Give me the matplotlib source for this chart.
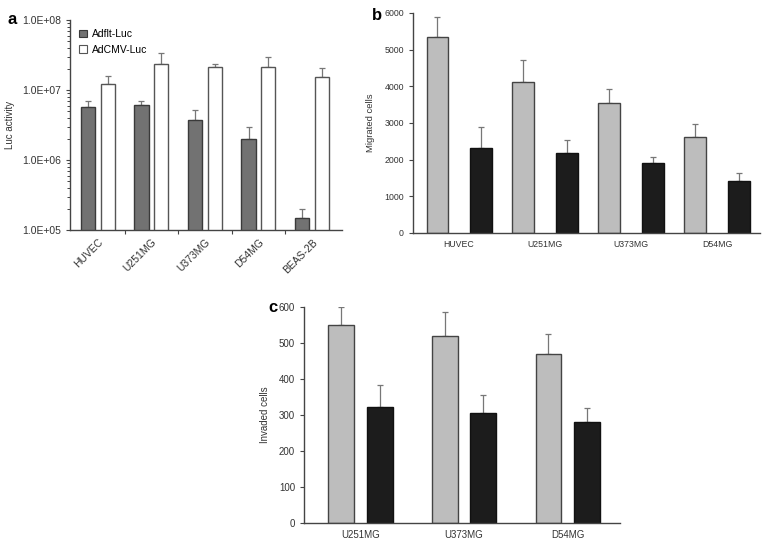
import numpy as np
import matplotlib
matplotlib.use("Agg")
import matplotlib.pyplot as plt
from matplotlib import font_manager
from matplotlib.patches import Patch
from matplotlib.ticker import FixedLocator, LogLocator, NullFormatter, FuncFormatter

# pick the regular-width Liberation Sans (avoid the Narrow variant)
fam = 'DejaVu Sans'
for f in font_manager.fontManager.ttflist:
    if 'LiberationSans-Regular' in f.fname:
        fam = f.name
        break
plt.rcParams['font.family'] = [fam, 'DejaVu Sans']
plt.rcParams['font.stretch'] = 'normal'

# panel a: luciferase activity (log scale)
cells_a = ['HUVEC', 'U251MG', 'U373MG', 'D54MG', 'BEAS-2B']
adflt = [5.8e6, 6.2e6, 3.7e6, 2.0e6, 1.47e5]
adflt_err = [1.25e6, 0.8e6, 1.4e6, 0.95e6, 0.5e5]
adcmv = [1.22e7, 2.33e7, 2.13e7, 2.13e7, 1.52e7]
adcmv_err = [0.36e7, 1.1e7, 0.22e7, 0.8e7, 0.52e7]

# panel b: migrated cells
cells_b = ['HUVEC', 'U251MG', 'U373MG', 'D54MG']
mig_gray = [5340, 4120, 3540, 2620]
mig_gray_err = [550, 600, 380, 350]
mig_black = [2330, 2170, 1910, 1410]
mig_black_err = [560, 375, 155, 230]

# panel c: invaded cells
cells_c = ['U251MG', 'U373MG', 'D54MG']
inv_gray = [550, 519, 469]
inv_gray_err = [49, 66, 56]
inv_black = [321, 305, 281]
inv_black_err = [63, 50, 38]

W, H = 768, 548
fig = plt.figure(figsize=(W / 100, H / 100), dpi=100)


def axes_px(left, top, right, bottom):
    return fig.add_axes([left / W, 1 - bottom / H, (right - left) / W, (bottom - top) / H])


def style(ax, fs):
    for s in ['top', 'right']:
        ax.spines[s].set_visible(False)
    for s in ['left', 'bottom']:
        ax.spines[s].set_color('#444444')
        ax.spines[s].set_linewidth(1.0)
    ax.tick_params(labelsize=fs, colors='#444444', labelcolor='#333333', width=0.8, length=3)


def bars(ax, x, vals, errs, width, color, edge):
    ax.bar(x, vals, width, color=color, edgecolor=edge, linewidth=1.0, zorder=2)
    ax.errorbar(x, vals, yerr=[np.zeros(len(vals)), errs], fmt='none',
                ecolor='#777777', elinewidth=0.9, capsize=2, capthick=0.9, zorder=1)


# ---- panel a ----
ax = axes_px(70, 20, 342, 230)
style(ax, 7.5)
x = np.arange(len(cells_a))
off = 0.185
bw = 0.265
bars(ax, x - off, adflt, adflt_err, bw, '#727272', '#3a3a3a')
bars(ax, x + off, adcmv, adcmv_err, bw, 'white', '#555555')
ax.set_yscale('log')
ax.set_ylim(1e5, 1e8)
ax.set_xlim(-0.52, 4.56)
ax.yaxis.set_major_locator(FixedLocator([1e5, 1e6, 1e7, 1e8]))
ax.yaxis.set_major_formatter(FuncFormatter(lambda v, p: '1.0E+%02d' % round(np.log10(v))))
ax.yaxis.set_minor_locator(LogLocator(base=10, subs=np.arange(2, 10)))
ax.yaxis.set_minor_formatter(NullFormatter())
ax.tick_params(axis='y', which='minor', length=2, width=0.7, colors='#444444')
ax.set_xticks(x)
ax.set_xticklabels(cells_a, rotation=45, ha='right', rotation_mode='anchor')
ax.tick_params(axis='x', which='major', length=0, pad=5)
ax.set_xticks(x[:-1] + 0.5, minor=True)
ax.tick_params(axis='x', which='minor', length=3, width=0.8, colors='#444444')
ax.set_ylabel('Luc activity', fontsize=7, color='#333333', labelpad=5)
handles = [Patch(facecolor='#727272', edgecolor='#3a3a3a', linewidth=0.8),
           Patch(facecolor='white', edgecolor='#555555', linewidth=0.8)]
ax.legend(handles, ['Adflt-Luc', 'AdCMV-Luc'], loc='upper left', fontsize=7.5, frameon=False,
          handlelength=0.7, handleheight=0.7, handletextpad=0.5, borderaxespad=0.5,
          labelspacing=0.5, bbox_to_anchor=(0.0, 1.0))
fig.text(8 / W, 1 - 20 / H, 'a', fontsize=12, fontweight='bold', va='center')

# ---- panel b ----
ax = axes_px(413, 13, 760, 233)
style(ax, 6.3)
x = np.arange(len(cells_b))
bars(ax, x - 0.253, mig_gray, mig_gray_err, 0.25, '#bdbdbd', '#444444')
bars(ax, x + 0.253, mig_black, mig_black_err, 0.25, '#1c1c1c', '#111111')
ax.set_ylim(0, 6000)
ax.set_xlim(-0.535, 3.5)
ax.set_yticks(np.arange(0, 6001, 1000))
ax.set_xticks(x)
ax.set_xticklabels(cells_b)
ax.tick_params(axis='x', length=0, pad=5)
ax.set_ylabel('Migrated cells', fontsize=6.8, color='#333333', labelpad=7)
fig.text(372 / W, 1 - 15 / H, 'b', fontsize=12, fontweight='bold', va='center')

# ---- panel c ----
ax = axes_px(304, 307, 620, 523)
style(ax, 7)
x = np.arange(len(cells_c))
bars(ax, x - 0.186, inv_gray, inv_gray_err, 0.248, '#bdbdbd', '#444444')
bars(ax, x + 0.186, inv_black, inv_black_err, 0.248, '#1c1c1c', '#111111')
ax.set_ylim(0, 600)
ax.set_xlim(-0.545, 2.505)
ax.set_yticks(np.arange(0, 601, 100))
ax.set_xticks(x)
ax.set_xticklabels(cells_c)
ax.tick_params(axis='x', length=0, pad=5)
ax.set_ylabel('Invaded cells', fontsize=7, color='#333333', labelpad=6)
fig.text(268 / W, 1 - 307 / H, 'c', fontsize=12, fontweight='bold', va='center')

fig.savefig('out.png', dpi=100, facecolor='white')
